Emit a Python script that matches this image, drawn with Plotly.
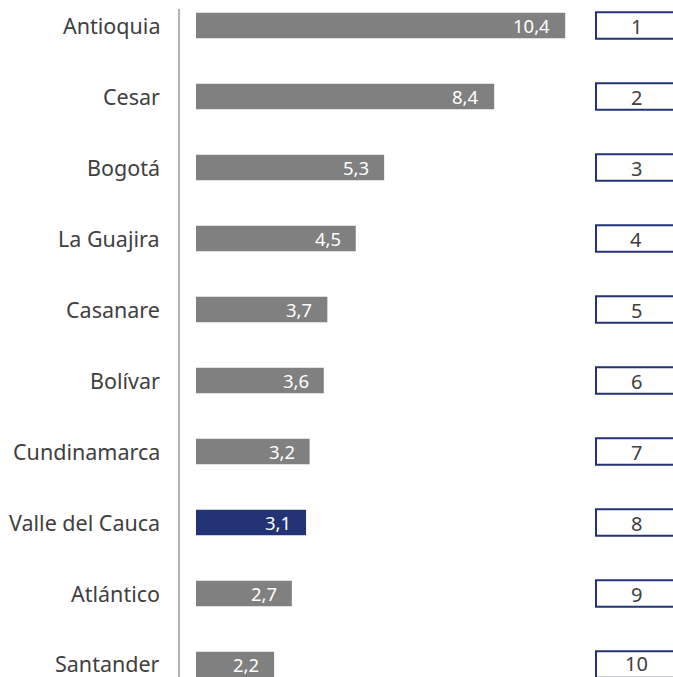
import plotly.graph_objects as go

departments = ["Antioquia", "Cesar", "Bogotá", "La Guajira", "Casanare", "Bolívar",
               "Cundinamarca", "Valle del Cauca", "Atlántico", "Santander"]
values = [10.4, 8.4, 5.3, 4.5, 3.7, 3.6, 3.2, 3.1, 2.7, 2.2]
value_labels = ["10,4", "8,4", "5,3", "4,5", "3,7", "3,6", "3,2", "3,1", "2,7", "2,2"]
ranks = ["1", "2", "3", "4", "5", "6", "7", "8", "9", "10"]
highlight = "Valle del Cauca"

W, H = 673, 677
GRAY = "#808080"
BLUE = "#233476"
TEXT = "#404040"
FONT = "Noto Sans"

px_per_unit = 35.5
bar_origin_px = 196
x_range = [-bar_origin_px / px_per_unit, (W - bar_origin_px) / px_per_unit]

step = 71.0
first_center = 25.5
y_top = -first_center / step
y_bottom = y_top + H / step

idx = list(range(len(departments)))
colors = [BLUE if d == highlight else GRAY for d in departments]

fig = go.Figure(go.Bar(
    x=values, y=idx, orientation="h", marker=dict(color=colors, line=dict(width=0)),
    width=0.36, hoverinfo="skip",
))

annotations = []
shapes = []
bw = 0.36 / 2 + 0.005
last = len(departments) - 1
for i, (d, v, lab, r) in enumerate(zip(departments, values, value_labels, ranks)):
    annotations.append(dict(x=162 / W, xref="paper", y=i, yref="y", text=d, showarrow=False,
                            xanchor="right", yanchor="middle", yshift=1 if i == last else 0,
                            font=dict(family=FONT, size=21.5, color=TEXT)))
    annotations.append(dict(x=v, xref="x", y=i, yref="y", text=lab, showarrow=False,
                            xanchor="right", yanchor="middle", xshift=-13,
                            font=dict(family=FONT, size=18.5, color="white")))
    shapes.append(dict(type="rect", xref="paper", yref="y", x0=596 / W, x1=1.05,
                       y0=i - bw, y1=i + bw, line=dict(color=BLUE, width=2),
                       fillcolor="white", layer="above"))
    annotations.append(dict(x=636 / W, xref="paper", y=i, yref="y", text=r, showarrow=False,
                            xanchor="center", yanchor="middle",
                            yshift=1 if i == last else -1,
                            font=dict(family=FONT, size=20, color=TEXT)))

shapes.append(dict(type="line", xref="paper", yref="paper", x0=179 / W, x1=179 / W,
                   y0=0, y1=1 - 9 / H, line=dict(color="#b3b3b3", width=2)))

fig.update_layout(
    width=W, height=H, margin=dict(l=0, r=0, t=0, b=0),
    paper_bgcolor="white", plot_bgcolor="white", showlegend=False,
    xaxis=dict(range=x_range, visible=False, fixedrange=True),
    yaxis=dict(range=[y_bottom, y_top], visible=False, fixedrange=True),
    annotations=annotations, shapes=shapes,
)

fig.write_html("out.html", config={"displayModeBar": False},
               post_script="document.body.style.margin='0';document.body.style.overflow='hidden';")
